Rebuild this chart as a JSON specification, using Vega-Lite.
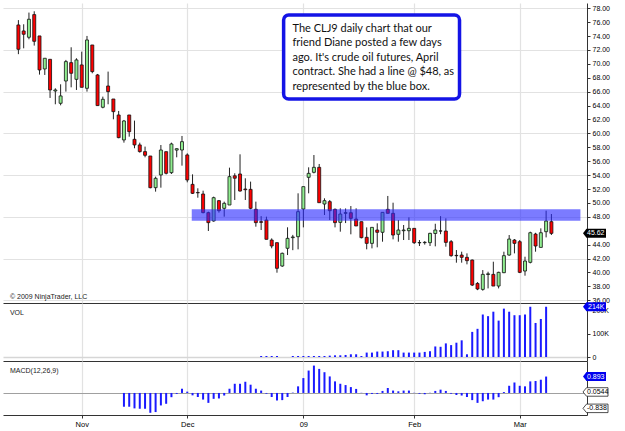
{
  "$schema": "https://vega.github.io/schema/vega-lite/v6.json",
  "padding": {"left": 3, "top": 3, "right": 4, "bottom": 4},
  "spacing": 0,
  "bounds": "flush",
  "config": {
    "view": {"stroke": null},
    "axis": {"labelFont": "Liberation Sans", "labelFontSize": 7, "labelColor": "#000", "domainColor": "#333", "tickColor": "#333", "gridColor": "#e2e2e2", "title": null, "labelOverlap": false, "tickCount": 40},
    "text": {"font": "Liberation Sans"}
  },
  "datasets": {
    "candles": [
      {"i":0,"o":75.6,"h":76.3,"l":71.4,"c":72.1},
      {"i":1,"o":74.74,"h":75.7,"l":72.24,"c":74.26},
      {"i":2,"o":73.83,"h":77.38,"l":73.54,"c":76.42},
      {"i":3,"o":77.09,"h":77.57,"l":72.63,"c":73.25},
      {"i":4,"o":74.02,"h":74.02,"l":68.46,"c":69.13},
      {"i":5,"o":69.27,"h":70.81,"l":68.41,"c":70.81},
      {"i":6,"o":70.66,"h":70.66,"l":65.1,"c":66.25},
      {"i":7,"o":66.1,"h":66.49,"l":64.19,"c":66.25},
      {"i":8,"o":64.33,"h":67.06,"l":64.04,"c":65.39},
      {"i":9,"o":67.54,"h":70.57,"l":66.01,"c":70.33},
      {"i":10,"o":70.18,"h":72.39,"l":66.63,"c":68.65},
      {"i":11,"o":67.78,"h":70.81,"l":66.25,"c":70.57},
      {"i":12,"o":69.85,"h":71.76,"l":66.63,"c":66.63},
      {"i":13,"o":66.49,"h":74.02,"l":66.01,"c":73.44},
      {"i":14,"o":72.72,"h":72.72,"l":68.65,"c":68.89},
      {"i":15,"o":68.41,"h":68.55,"l":64.0,"c":64.0},
      {"i":16,"o":63.76,"h":65.29,"l":63.61,"c":64.91},
      {"i":17,"o":66.82,"h":68.89,"l":64.19,"c":66.01},
      {"i":18,"o":64.95,"h":64.95,"l":62.03,"c":63.13},
      {"i":19,"o":62.65,"h":63.23,"l":59.3,"c":59.39},
      {"i":20,"o":59.06,"h":61.93,"l":58.67,"c":61.79},
      {"i":21,"o":62.65,"h":62.65,"l":59.53,"c":60.25},
      {"i":22,"o":59.15,"h":61.84,"l":57.86,"c":58.34},
      {"i":23,"o":58.34,"h":58.67,"l":57.23,"c":57.38},
      {"i":24,"o":57.38,"h":58.1,"l":56.56,"c":56.85},
      {"i":25,"o":56.75,"h":56.75,"l":52.1,"c":52.19},
      {"i":26,"o":52.19,"h":53.78,"l":51.62,"c":53.54},
      {"i":27,"o":54.02,"h":58.33,"l":52.19,"c":57.61},
      {"i":28,"o":57.37,"h":57.37,"l":54.1,"c":54.26},
      {"i":29,"o":54.35,"h":58.67,"l":54.16,"c":58.48},
      {"i":30,"o":57.6,"h":57.85,"l":56.56,"c":57.8},
      {"i":31,"o":57.61,"h":59.63,"l":55.36,"c":58.81},
      {"i":32,"o":56.9,"h":57.13,"l":52.96,"c":53.3},
      {"i":33,"o":52.67,"h":54.11,"l":51.28,"c":51.38},
      {"i":34,"o":51.5,"h":52.1,"l":50.75,"c":51.45},
      {"i":35,"o":51.28,"h":51.76,"l":48.5,"c":48.6},
      {"i":36,"o":48.6,"h":48.74,"l":45.96,"c":47.16},
      {"i":37,"o":47.4,"h":50.9,"l":47.3,"c":50.75},
      {"i":38,"o":50.32,"h":50.42,"l":48.6,"c":48.88},
      {"i":39,"o":49.22,"h":50.18,"l":48.02,"c":49.94},
      {"i":40,"o":49.7,"h":55.07,"l":49.7,"c":53.78},
      {"i":41,"o":53.9,"h":54.26,"l":50.42,"c":53.55},
      {"i":42,"o":54.16,"h":56.99,"l":51.62,"c":51.71},
      {"i":43,"o":52.0,"h":53.54,"l":50.42,"c":51.9},
      {"i":44,"o":51.95,"h":53.06,"l":49.08,"c":49.22},
      {"i":45,"o":49.08,"h":50.18,"l":46.58,"c":47.16},
      {"i":46,"o":47.3,"h":48.1,"l":46.1,"c":47.2},
      {"i":47,"o":47.54,"h":48.02,"l":44.76,"c":44.76},
      {"i":48,"o":44.66,"h":44.9,"l":43.47,"c":43.8},
      {"i":49,"o":44.28,"h":44.28,"l":39.96,"c":40.59},
      {"i":50,"o":40.92,"h":42.85,"l":40.8,"c":42.75},
      {"i":51,"o":43.47,"h":46.49,"l":42.5,"c":44.9},
      {"i":52,"o":45.0,"h":45.4,"l":43.2,"c":45.1},
      {"i":53,"o":45.14,"h":51.38,"l":43.32,"c":48.74},
      {"i":54,"o":49.12,"h":52.34,"l":46.48,"c":52.34},
      {"i":55,"o":53.68,"h":55.12,"l":51.38,"c":54.25},
      {"i":56,"o":54.4,"h":56.89,"l":54.25,"c":55.12},
      {"i":57,"o":55.12,"h":55.6,"l":50.03,"c":50.03},
      {"i":58,"o":49.84,"h":50.66,"l":48.26,"c":50.32},
      {"i":59,"o":50.18,"h":50.42,"l":47.54,"c":48.88},
      {"i":60,"o":49.07,"h":49.2,"l":46.48,"c":47.16},
      {"i":61,"o":47.2,"h":49.22,"l":45.86,"c":48.4},
      {"i":62,"o":48.5,"h":49.2,"l":47.1,"c":48.6},
      {"i":63,"o":48.59,"h":49.55,"l":45.48,"c":47.78},
      {"i":64,"o":47.68,"h":49.22,"l":46.68,"c":46.68},
      {"i":65,"o":47.3,"h":47.3,"l":44.9,"c":45.0},
      {"i":66,"o":45.05,"h":46.48,"l":43.32,"c":44.18},
      {"i":67,"o":44.18,"h":46.48,"l":43.46,"c":46.48},
      {"i":68,"o":46.1,"h":47.06,"l":43.61,"c":45.77},
      {"i":69,"o":45.77,"h":48.64,"l":44.42,"c":48.64},
      {"i":70,"o":49.07,"h":51.0,"l":48.5,"c":48.5},
      {"i":71,"o":48.5,"h":50.03,"l":44.76,"c":45.38},
      {"i":72,"o":45.48,"h":47.54,"l":44.42,"c":46.1},
      {"i":73,"o":46.0,"h":46.82,"l":44.66,"c":46.1},
      {"i":74,"o":46.0,"h":47.92,"l":44.66,"c":46.34},
      {"i":75,"o":46.34,"h":46.34,"l":44.09,"c":44.28},
      {"i":76,"o":44.25,"h":44.66,"l":43.8,"c":44.3},
      {"i":77,"o":44.28,"h":44.5,"l":44.0,"c":44.33},
      {"i":78,"o":44.28,"h":45.7,"l":43.8,"c":45.62},
      {"i":79,"o":45.6,"h":47.0,"l":43.75,"c":46.1},
      {"i":80,"o":45.95,"h":48.1,"l":45.5,"c":45.97},
      {"i":81,"o":45.95,"h":47.78,"l":43.7,"c":44.32},
      {"i":82,"o":44.42,"h":44.66,"l":42.25,"c":42.41},
      {"i":83,"o":42.45,"h":43.22,"l":41.4,"c":42.4},
      {"i":84,"o":42.5,"h":42.98,"l":41.4,"c":42.17},
      {"i":85,"o":42.17,"h":42.74,"l":41.16,"c":41.69},
      {"i":86,"o":41.78,"h":41.85,"l":38.04,"c":38.18},
      {"i":87,"o":38.42,"h":38.6,"l":37.45,"c":37.61},
      {"i":88,"o":37.56,"h":40.34,"l":37.37,"c":39.72},
      {"i":89,"o":39.7,"h":40.1,"l":37.7,"c":39.8},
      {"i":90,"o":39.72,"h":41.54,"l":38.04,"c":38.04},
      {"i":91,"o":38.04,"h":40.1,"l":37.7,"c":40.01},
      {"i":92,"o":39.96,"h":42.98,"l":39.9,"c":42.41},
      {"i":93,"o":42.5,"h":45.38,"l":42.4,"c":44.8},
      {"i":94,"o":44.66,"h":44.8,"l":42.74,"c":44.18},
      {"i":95,"o":44.42,"h":44.66,"l":39.9,"c":40.01},
      {"i":96,"o":40.2,"h":42.26,"l":39.53,"c":41.64},
      {"i":97,"o":41.45,"h":45.86,"l":41.3,"c":45.71},
      {"i":98,"o":45.52,"h":45.7,"l":42.98,"c":43.8},
      {"i":99,"o":43.6,"h":46.34,"l":43.6,"c":45.71},
      {"i":100,"o":45.86,"h":48.88,"l":45.04,"c":47.39},
      {"i":101,"o":47.3,"h":48.4,"l":45.38,"c":45.62}
    ],
    "vol": [
      {"i":46,"v":4300},{"i":47,"v":4300},{"i":48,"v":4300},{"i":49,"v":4300},
      {"i":52,"v":4300},{"i":53,"v":4300},{"i":54,"v":4300},{"i":55,"v":4300},{"i":56,"v":4300},{"i":57,"v":4300},{"i":58,"v":4300},
      {"i":59,"v":5800},{"i":60,"v":7200},{"i":61,"v":7200},{"i":62,"v":8700},{"i":63,"v":11600},{"i":64,"v":11600},{"i":65,"v":4300},
      {"i":66,"v":18800},{"i":67,"v":18800},{"i":68,"v":23200},{"i":69,"v":23200},{"i":70,"v":24600},{"i":71,"v":29000},{"i":72,"v":29000},
      {"i":73,"v":18800},{"i":74,"v":18800},{"i":75,"v":18800},{"i":76,"v":18800},{"i":77,"v":21700},{"i":78,"v":24600},
      {"i":79,"v":44900},{"i":80,"v":43500},{"i":81,"v":58000},{"i":82,"v":50700},{"i":83,"v":60900},{"i":84,"v":71000},{"i":85,"v":11600},
      {"i":86,"v":107000},{"i":87,"v":120000},{"i":88,"v":181000},{"i":89,"v":174000},{"i":90,"v":193000},{"i":91,"v":155000},
      {"i":92,"v":206000},{"i":93,"v":193000},{"i":94,"v":178000},{"i":95,"v":178000},{"i":96,"v":181000},{"i":97,"v":214000},
      {"i":98,"v":145000},{"i":99,"v":162000},{"i":100,"v":214000}
    ],
    "macd": [
      {"i":20,"m":-0.75},{"i":21,"m":-0.75},{"i":22,"m":-0.84},{"i":23,"m":-0.86},{"i":24,"m":-0.86},{"i":25,"m":-1.08},{"i":26,"m":-1.04},
      {"i":27,"m":-0.68},{"i":28,"m":-0.59},{"i":29,"m":-0.23},{"i":30,"m":-0.05},{"i":31,"m":0.23},{"i":32,"m":0.07},{"i":33,"m":-0.13},
      {"i":34,"m":-0.22},{"i":35,"m":-0.36},{"i":36,"m":-0.54},{"i":37,"m":-0.32},{"i":38,"m":-0.3},{"i":39,"m":-0.14},{"i":40,"m":0.23},
      {"i":41,"m":0.5},{"i":42,"m":0.5},{"i":43,"m":0.61},{"i":44,"m":0.45},{"i":45,"m":0.23},{"i":46,"m":0.13},{"i":47,"m":-0.04},
      {"i":48,"m":-0.22},{"i":49,"m":-0.41},{"i":50,"m":-0.39},{"i":51,"m":-0.22},{"i":52,"m":0.02},{"i":53,"m":0.36},{"i":54,"m":0.81},
      {"i":55,"m":1.22},{"i":56,"m":1.49},{"i":57,"m":1.31},{"i":58,"m":1.13},{"i":59,"m":0.9},{"i":60,"m":0.63},{"i":61,"m":0.5},
      {"i":62,"m":0.43},{"i":63,"m":0.32},{"i":64,"m":0.22},{"i":65,"m":0.01},{"i":66,"m":-0.13},{"i":67,"m":-0.05},{"i":68,"m":-0.05},
      {"i":69,"m":0.11},{"i":70,"m":0.27},{"i":71,"m":0.13},{"i":72,"m":0.09},{"i":73,"m":0.13},{"i":74,"m":0.13},{"i":75,"m":0.01},
      {"i":76,"m":-0.04},{"i":77,"m":-0.07},{"i":78,"m":0.01},{"i":79,"m":0.11},{"i":80,"m":0.18},{"i":81,"m":0.11},{"i":82,"m":-0.04},
      {"i":83,"m":-0.11},{"i":84,"m":-0.14},{"i":85,"m":-0.22},{"i":86,"m":-0.39},{"i":87,"m":-0.54},{"i":88,"m":-0.45},{"i":89,"m":-0.36},
      {"i":90,"m":-0.36},{"i":91,"m":-0.23},{"i":92,"m":0.05},{"i":93,"m":0.39},{"i":94,"m":0.57},{"i":95,"m":0.39},{"i":96,"m":0.36},
      {"i":97,"m":0.63},{"i":98,"m":0.65},{"i":99,"m":0.72},{"i":100,"m":0.893}
    ]
  },
  "vconcat": [
    {
      "width": 584,
      "height": 300,
      "layer": [
        {
          "data": {"name": "candles"},
          "mark": {"type": "rule", "color": "#222", "strokeWidth": 1},
          "encoding": {
            "x": {"field": "i", "type": "quantitative", "scale": {"domain": [-1.97, 106.8], "nice": false, "zero": false},
              "axis": {"orient": "bottom", "values": [12, 32, 54, 75, 95], "labels": false, "ticks": false, "grid": true, "gridColor": "#e2e2e2", "gridWidth": 1.2, "domainColor": "#333", "title": null}},
            "y": {"field": "l", "type": "quantitative", "scale": {"domain": [35.6, 78.76], "nice": false, "zero": false},
              "axis": {"orient": "right", "values": [36,38,40,42,44,46,48,50,52,54,56,58,60,62,64,66,68,70,72,74,76,78], "tickCount": 40, "format": ".2f", "tickSize": 3, "labelPadding": 2, "labelOverlap": false, "labelBound": false, "title": null,
                "labelOpacity": {"condition": {"test": "datum.value === 46", "value": 0}, "value": 1},
                "grid": true, "gridWidth": 1.2, "gridColor": {"condition": {"test": "datum.value % 6 === 0", "value": "#e2e2e2"}, "value": "transparent"}}},
            "y2": {"field": "h"}
          }
        },
        {
          "data": {"name": "candles"},
          "mark": {"type": "bar", "size": 3, "stroke": "#111", "strokeWidth": 0.8},
          "encoding": {
            "x": {"field": "i", "type": "quantitative"},
            "y": {"field": "o", "type": "quantitative"},
            "y2": {"field": "c"},
            "fill": {"condition": {"test": "datum.c >= datum.o", "value": "#90ee90"}, "value": "#ff0000"}
          }
        },
        {
          "data": {"values": [{}]},
          "mark": {"type": "rect", "fill": "#2a2aff", "opacity": 0.62},
          "encoding": {
            "x": {"datum": 32.85}, "x2": {"datum": 106.5},
            "y": {"datum": 49.08}, "y2": {"datum": 47.44}
          }
        },
        {
          "data": {"values": [{}]},
          "mark": {"type": "text", "text": "© 2009 NinjaTrader, LLC", "align": "left", "baseline": "middle", "fontSize": 7, "color": "#222"},
          "encoding": {"x": {"datum": -1.6}, "y": {"datum": 36.46}}
        },
        {
          "data": {"values": [{}]},
          "mark": {"type": "rect", "fill": "#ffffff", "stroke": "#1414e6", "strokeWidth": 3.5, "cornerRadius": 5},
          "encoding": {
            "x": {"datum": 50.26}, "x2": {"datum": 83.59},
            "y": {"datum": 77.04}, "y2": {"datum": 64.95}
          }
        },
        {
          "data": {"values": [{}]},
          "mark": {"type": "text", "align": "left", "baseline": "alphabetic", "font": "Lato", "fontSize": 11, "lineHeight": 14.5, "color": "#111",
            "text": ["The CLJ9 daily chart that our", "friend Diane posted a few days", "ago. It's crude oil futures, April", "contract. She had a line @ $48, as", "represented by the blue box."]},
          "encoding": {"x": {"datum": 51.94}, "y": {"datum": 74.59}}
        },
        {
          "data": {"values": [{}]},
          "mark": {"type": "point", "filled": true, "color": "#000", "opacity": 1, "xOffset": 12.5, "size": 529, "shape": "M-1,0L-0.7,-0.39L1,-0.39L1,0.39L-0.7,0.39Z"},
          "encoding": {"x": {"datum": 106.8}, "y": {"datum": 45.62}}
        },
        {
          "data": {"values": [{}]},
          "mark": {"type": "text", "text": "45.62", "align": "left", "baseline": "middle", "dx": 5, "fontSize": 7, "color": "#fff"},
          "encoding": {"x": {"datum": 106.8}, "y": {"datum": 45.62}}
        }
      ]
    },
    {
      "width": 584,
      "height": 58,
      "layer": [
        {
          "data": {"name": "vol"},
          "mark": {"type": "bar", "size": 2, "color": "#1a1aff"},
          "encoding": {
            "x": {"field": "i", "type": "quantitative", "scale": {"domain": [-1.97, 106.8], "nice": false, "zero": false},
              "axis": {"orient": "bottom", "values": [12, 32, 54, 75, 95], "labels": false, "ticks": false, "grid": true, "gridColor": "#e2e2e2", "gridWidth": 1.2, "domainColor": "#333", "title": null}},
            "y": {"field": "v", "type": "quantitative", "scale": {"domain": [-17000, 230000], "nice": false, "zero": false},
              "axis": {"orient": "right", "values": [0, 100000, 200000], "tickCount": 40, "labelExpr": "datum.value == 0 ? '0' : format(datum.value / 1000, 'd') + 'K'", "tickSize": 3, "labelPadding": 2, "title": null,
                "grid": true, "gridWidth": 1.5, "gridColor": {"condition": {"test": "datum.value === 0", "value": "#d6d6d6"}, "value": "transparent"}}},
            "y2": {"datum": 0}
          }
        },
        {
          "data": {"values": [{}]},
          "mark": {"type": "text", "text": "VOL", "align": "left", "baseline": "middle", "fontSize": 7, "color": "#222"},
          "encoding": {"x": {"datum": -1.6}, "y": {"datum": 188000}}
        },
        {
          "data": {"values": [{}]},
          "mark": {"type": "point", "filled": true, "color": "#0000ee", "opacity": 1, "xOffset": 12.5, "size": 529, "shape": "M-1,0L-0.7,-0.39L1,-0.39L1,0.39L-0.7,0.39Z"},
          "encoding": {"x": {"datum": 106.8}, "y": {"datum": 214000}}
        },
        {
          "data": {"values": [{}]},
          "mark": {"type": "text", "text": "214K", "align": "left", "baseline": "middle", "dx": 6, "fontSize": 7, "color": "#fff"},
          "encoding": {"x": {"datum": 106.8}, "y": {"datum": 214000}}
        }
      ]
    },
    {
      "width": 584,
      "height": 54,
      "layer": [
        {
          "data": {"name": "macd"},
          "mark": {"type": "bar", "size": 2, "color": "#1a1aff"},
          "encoding": {
            "x": {"field": "i", "type": "quantitative", "scale": {"domain": [-1.97, 106.8], "nice": false, "zero": false},
              "axis": {"orient": "bottom", "values": [12, 32, 54, 75, 95], "labelExpr": "datum.value == 12 ? 'Nov' : datum.value == 32 ? 'Dec' : datum.value == 54 ? '09' : datum.value == 75 ? 'Feb' : 'Mar'",
                "tickSize": 3, "labelPadding": 2, "labelFontSize": 7.5, "grid": true, "gridColor": "#e2e2e2", "gridWidth": 1.2, "domainColor": "#333", "title": null}},
            "y": {"field": "m", "type": "quantitative", "scale": {"domain": [-1.2, 1.74], "nice": false, "zero": false},
              "axis": {"orient": "right", "values": [0], "labels": false, "ticks": false, "title": null, "grid": true, "gridColor": "#a0a0a0", "gridWidth": 1}},
            "y2": {"datum": 0}
          }
        },
        {
          "data": {"values": [{}]},
          "mark": {"type": "text", "text": "MACD(12,26,9)", "align": "left", "baseline": "middle", "fontSize": 7, "color": "#222"},
          "encoding": {"x": {"datum": -1.6}, "y": {"datum": 1.2}}
        },
        {
          "data": {"values": [{}]},
          "mark": {"type": "point", "filled": true, "color": "#0000ee", "opacity": 1, "xOffset": 12.5, "size": 529, "shape": "M-1,0L-0.7,-0.39L1,-0.39L1,0.39L-0.7,0.39Z"},
          "encoding": {"x": {"datum": 106.8}, "y": {"datum": 0.893}}
        },
        {
          "data": {"values": [{}]},
          "mark": {"type": "text", "text": "0.893", "align": "left", "baseline": "middle", "dx": 5, "fontSize": 7, "color": "#fff"},
          "encoding": {"x": {"datum": 106.8}, "y": {"datum": 0.893}}
        },
        {
          "data": {"values": [{"v": 0.0544, "t": "0.0544"}, {"v": -0.838, "t": "-0.838"}]},
          "mark": {"type": "point", "filled": true, "fill": "#fff", "stroke": "#222", "strokeWidth": 0.8, "opacity": 1, "xOffset": 13.5, "size": 625, "shape": "M-1,0L-0.72,-0.34L1,-0.34L1,0.34L-0.72,0.34Z"},
          "encoding": {"x": {"datum": 106.8}, "y": {"field": "v", "type": "quantitative"}}
        },
        {
          "data": {"values": [{"v": 0.0544, "t": "0.0544"}, {"v": -0.838, "t": "-0.838"}]},
          "mark": {"type": "text", "align": "left", "baseline": "middle", "dx": 5, "fontSize": 7, "color": "#000"},
          "encoding": {"x": {"datum": 106.8}, "y": {"field": "v", "type": "quantitative"}, "text": {"field": "t"}}
        }
      ]
    }
  ]
}
